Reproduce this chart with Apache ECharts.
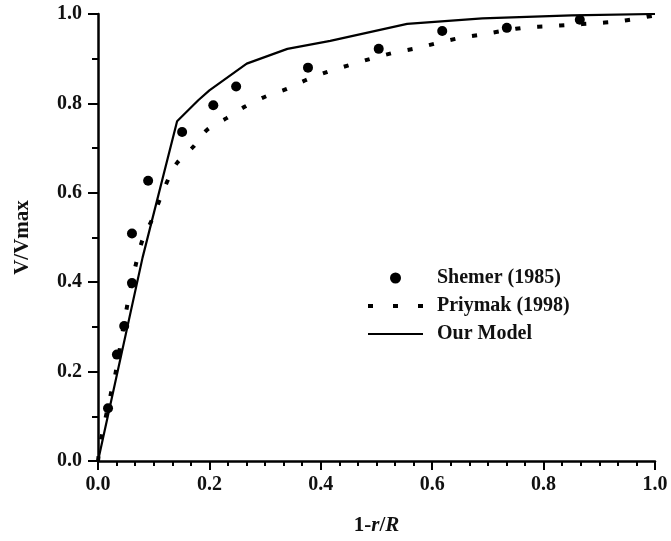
<!DOCTYPE html>
<html>
<head>
<meta charset="utf-8">
<title>Velocity profile</title>
<script src="https://cdn.jsdelivr.net/npm/echarts@6/dist/echarts.min.js"></script>
<style>
  html, body { margin: 0; padding: 0; background: #fff; }
  #chart { width: 671px; height: 541px; }
</style>
</head>
<body>
<div id="chart"></div>
<script>
// Measured points, Shemer (1985): [1 - r/R, V/Vmax]
const shemerX = [0.018, 0.034, 0.047, 0.061, 0.061, 0.090, 0.151, 0.207, 0.248, 0.377, 0.504, 0.618, 0.734, 0.865];
const shemerY = [0.118, 0.238, 0.302, 0.398, 0.509, 0.627, 0.736, 0.796, 0.838, 0.880, 0.922, 0.962, 0.969, 0.987];

// Priymak (1998) profile
const priymakX = [0, 0.005, 0.023, 0.032, 0.052, 0.068, 0.080, 0.097, 0.111, 0.126, 0.142, 0.171, 0.195, 0.231, 0.264, 0.302, 0.340, 0.375, 0.413, 0.452, 0.490, 0.530, 0.570, 0.609, 0.648, 0.689, 0.730, 0.770, 0.810, 0.849, 0.890, 0.930, 0.969, 1.0];
const priymakY = [0, 0.045, 0.150, 0.200, 0.345, 0.440, 0.495, 0.540, 0.585, 0.630, 0.667, 0.703, 0.740, 0.767, 0.793, 0.816, 0.833, 0.853, 0.871, 0.886, 0.900, 0.913, 0.923, 0.935, 0.946, 0.954, 0.963, 0.970, 0.973, 0.976, 0.979, 0.983, 0.990, 0.997];

// Model prediction
const modelX = [0, 0.080, 0.142, 0.180, 0.200, 0.267, 0.340, 0.417, 0.555, 0.690, 0.850, 1.0];
const modelY = [0, 0.455, 0.760, 0.807, 0.829, 0.889, 0.922, 0.940, 0.978, 0.990, 0.997, 1.0];

const seriesNames = ['Shemer (1985)', 'Priymak (1998)', 'Our Model'];

const zip = (xs, ys) => xs.map((x, i) => [x, ys[i]]);

const FONT = '"Liberation Serif", "Times New Roman", serif';
const chart = echarts.init(document.getElementById('chart'), null, { renderer: 'canvas' });

const axisCommon = {
  type: 'value',
  min: 0,
  max: 1,
  interval: 0.2,
  splitLine: { show: false },
  axisLine: { show: true, lineStyle: { color: '#000', width: 2.5 } },
  axisTick: { show: true, length: 9, lineStyle: { color: '#000', width: 2 } },
  axisLabel: {
    color: '#111',
    fontFamily: FONT,
    fontWeight: 'bold',
    fontSize: 20,
    formatter: v => v.toFixed(1)
  }
};

chart.setOption({
  animation: false,
  backgroundColor: '#fff',
  grid: { left: 98, right: 16, top: 14, bottom: 78, containLabel: false },
  legend: {
    orient: 'vertical',
    left: 366,
    top: 267,
    itemWidth: 55,
    itemHeight: 11,
    itemGap: 6,
    padding: 0,
    data: [
      { name: seriesNames[0] },
      { name: seriesNames[1], itemStyle: { opacity: 0 }, lineStyle: { width: 4, type: [5, 20] } },
      { name: seriesNames[2], itemStyle: { opacity: 0 }, lineStyle: { width: 2.2 } }
    ],
    textStyle: {
      color: '#111',
      fontFamily: FONT,
      fontWeight: 'bold',
      fontSize: 20,
      lineHeight: 22,
      padding: [0, 0, 0, 9]
    }
  },
  xAxis: Object.assign({}, axisCommon, {
    name: '{a|1-}{b|r}{a|/}{b|R}',
    nameLocation: 'middle',
    nameGap: 54,
    nameTextStyle: {
      rich: {
        a: { fontFamily: FONT, fontWeight: 'bold', fontSize: 21, color: '#111' },
        b: { fontFamily: FONT, fontWeight: 'bold', fontStyle: 'italic', fontSize: 21, color: '#111' }
      }
    },
    axisLabel: Object.assign({}, axisCommon.axisLabel, { margin: 14 }),
    minorTick: { show: true, splitNumber: 6, length: 5, lineStyle: { color: '#000', width: 2 } }
  }),
  yAxis: Object.assign({}, axisCommon, {
    name: 'V/Vmax',
    nameLocation: 'middle',
    nameGap: 65,
    nameTextStyle: { fontFamily: FONT, fontWeight: 'bold', fontSize: 21, color: '#111' },
    axisLabel: Object.assign({}, axisCommon.axisLabel, { margin: 16 }),
    axisTick: { show: true, length: 10, lineStyle: { color: '#000', width: 2 } },
    minorTick: { show: true, splitNumber: 2, length: 6, lineStyle: { color: '#000', width: 2 } }
  }),
  series: [
    {
      name: seriesNames[0],
      type: 'scatter',
      data: zip(shemerX, shemerY),
      symbol: 'circle',
      symbolSize: 10,
      itemStyle: { color: '#000', opacity: 1 },
      z: 4
    },
    {
      name: seriesNames[1],
      type: 'line',
      data: zip(priymakX, priymakY),
      smooth: 0.3,
      showSymbol: false,
      symbol: 'none',
      lineStyle: { color: '#000', width: 4, type: [5, 17] },
      itemStyle: { color: '#000' },
      z: 3
    },
    {
      name: seriesNames[2],
      type: 'line',
      data: zip(modelX, modelY),
      showSymbol: false,
      symbol: 'none',
      lineStyle: { color: '#000', width: 2.2 },
      itemStyle: { color: '#000' },
      z: 3
    }
  ]
});
</script>
</body>
</html>
